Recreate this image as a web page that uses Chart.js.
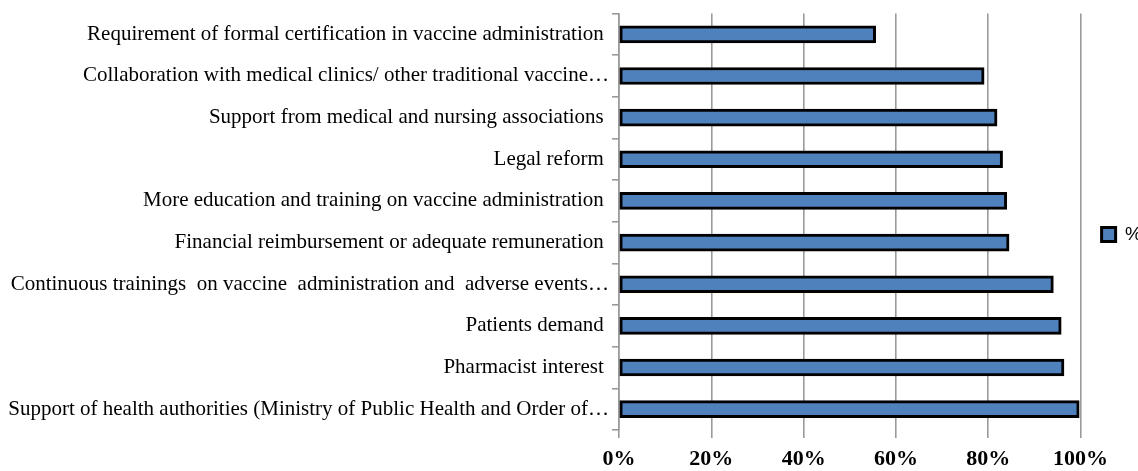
<!DOCTYPE html>
<html>
<head>
<meta charset="utf-8">
<script src="https://cdn.jsdelivr.net/npm/chart.js@4.4.1/dist/chart.umd.min.js"></script>
<style>
  html, body { margin: 0; padding: 0; background: #fff; overflow: hidden; }
  #wrap { position: relative; width: 1152px; height: 471px; }
</style>
</head>
<body>
<div id="wrap"><canvas id="chart"></canvas></div>
<script>
// categories, top to bottom (trailing spaces as in the source labels)
const categories = [
  'Requirement of formal certification in vaccine administration ',
  'Collaboration with medical clinics/ other traditional vaccine…',
  'Support from medical and nursing associations ',
  'Legal reform ',
  'More education and training on vaccine administration ',
  'Financial reimbursement or adequate remuneration ',
  'Continuous trainings  on vaccine  administration and  adverse events…',
  'Patients demand ',
  'Pharmacist interest ',
  'Support of health authorities (Ministry of Public Health and Order of…',
];

// share of respondents (%)
const percentValues = [55.6, 79.1, 81.9, 83.1, 84.0, 84.5, 94.1, 95.8, 96.4, 99.7];

const xTicks = [0, 20, 40, 60, 80, 100];
const seriesName = '%';

const gridGray = '#9a9a9a';

new Chart(document.getElementById('chart'), {
  type: 'bar',
  data: {
    labels: categories,
    datasets: [
      {
        label: seriesName,
        data: percentValues,
        backgroundColor: '#4F81BD',
        borderColor: '#000000',
        borderWidth: 3,
        borderSkipped: false,
        barThickness: 17,
      },
    ],
  },
  options: {
    indexAxis: 'y',
    responsive: true,
    maintainAspectRatio: false,
    animation: false,
    layout: {
      padding: {top: -2, right: 0, bottom: 0, left: 0},
    },
    plugins: {
      tooltip: {enabled: false},
      legend: {
        position: 'right',
        labels: {
          boxWidth: 14,
          boxHeight: 14,
          padding: 21,
          color: '#000',
          font: {family: 'Liberation Sans', size: 19},
          generateLabels: () => [{
            text: seriesName,
            fillStyle: '#4F81BD',
            strokeStyle: '#000',
            lineWidth: 3,
            datasetIndex: 0,
          }],
        },
      },
    },
    scales: {
      x: {
        min: 0,
        max: 100,
        afterBuildTicks: (scale) => {
          scale.ticks = xTicks.map((v) => ({value: v}));
        },
        afterFit: (scale) => {
          scale.height = 41;
        },
        border: {display: false},
        grid: {
          color: gridGray,
          lineWidth: 1.6,
          tickLength: 8,
        },
        ticks: {
          color: '#000',
          padding: 8,
          font: {family: 'Liberation Serif', size: 22, weight: 'bold'},
          callback: (v) => v + '%',
        },
      },
      y: {
        afterFit: (scale) => {
          scale.width = 619;
        },
        border: {display: true, color: gridGray, width: 1.6},
        grid: {
          drawOnChartArea: false,
          color: gridGray,
          lineWidth: 1.6,
          tickLength: 7,
          offset: true,
        },
        ticks: {
          color: '#000',
          padding: 3,
          autoSkip: false,
          font: {family: 'Liberation Serif', size: 21, lineHeight: 1},
        },
      },
    },
  },
});
</script>
</body>
</html>
